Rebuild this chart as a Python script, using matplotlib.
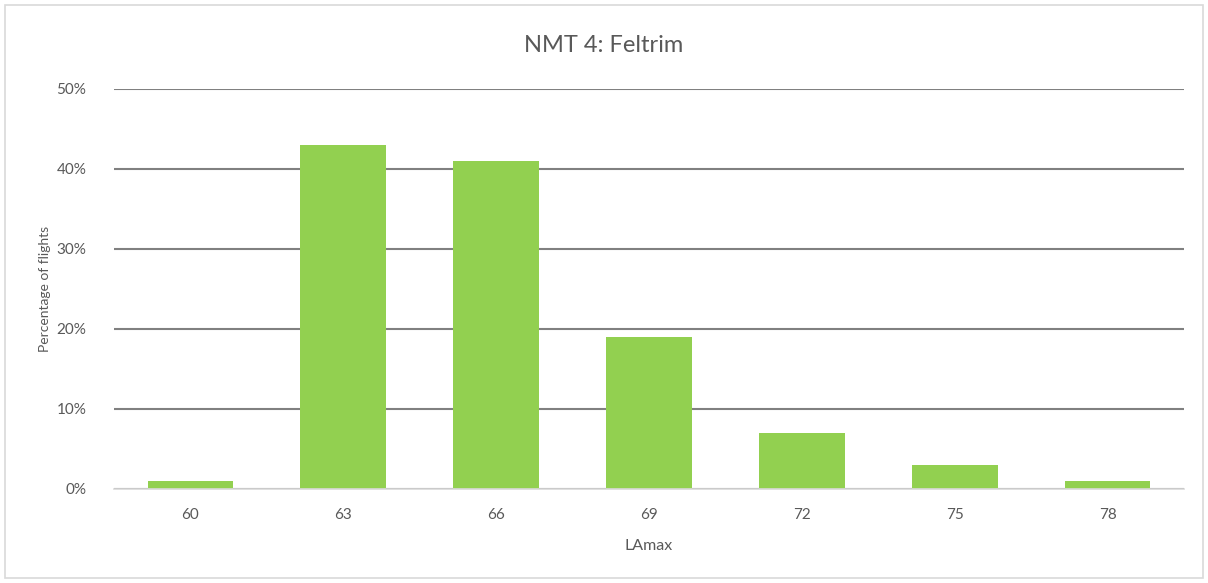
import matplotlib

matplotlib.use("Agg")
import matplotlib.pyplot as plt  # noqa: E402
from matplotlib.patches import Rectangle  # noqa: E402
from matplotlib.ticker import PercentFormatter  # noqa: E402

# LAmax bins and share of flights in each (percent)
lamax_bins = ["60", "63", "66", "69", "72", "75", "78"]
flight_share = [1, 43, 41, 19, 7, 3, 1]

BAR_COLOR = "#92D050"
TEXT_COLOR = "#595959"

plt.rcParams["font.family"] = ["Lato", "DejaVu Sans"]

fig = plt.figure(figsize=(12.08, 5.83), dpi=100)
W, H = 1208, 583
ax = fig.add_axes([114 / W, (H - 489) / H, (1184 - 114) / W, (489 - 89) / H])

x = range(len(lamax_bins))
ax.bar(x, flight_share, width=0.56, color=BAR_COLOR, zorder=3)

ax.set_xlim(-0.5, len(lamax_bins) - 0.5)
ax.set_ylim(0, 50)
ax.set_yticks(range(0, 51, 10))
ax.yaxis.set_major_formatter(PercentFormatter(decimals=0))
ax.set_xticks(list(x))
ax.set_xticklabels(lamax_bins)

ax.grid(axis="y", color="#808080", linewidth=1.5, zorder=0)
for side in ("top", "right", "left"):
    ax.spines[side].set_visible(False)
ax.spines["bottom"].set_color("#D9D9D9")
ax.spines["bottom"].set_linewidth(1.2)
ax.spines["bottom"].set_zorder(4)

ax.tick_params(axis="both", length=0, labelsize=11, colors=TEXT_COLOR)
ax.tick_params(axis="x", pad=14)
ax.tick_params(axis="y", pad=20)

ax.set_xlabel("LAmax", fontsize=11.5, color=TEXT_COLOR, labelpad=12)
ax.set_ylabel("Percentage of flights", fontsize=10, color=TEXT_COLOR, labelpad=4)

fig.text(0.5, (H - 45) / H, "NMT 4: Feltrim", ha="center", va="center",
         fontsize=17, color=TEXT_COLOR)

# chart area frame
fig.patches.append(Rectangle((5 / W, 5 / H), 1198 / W, 573 / H, transform=fig.transFigure,
                             fill=False, edgecolor="#D9D9D9", linewidth=1.2))

fig.savefig("out.png", dpi=100)
plt.close(fig)
